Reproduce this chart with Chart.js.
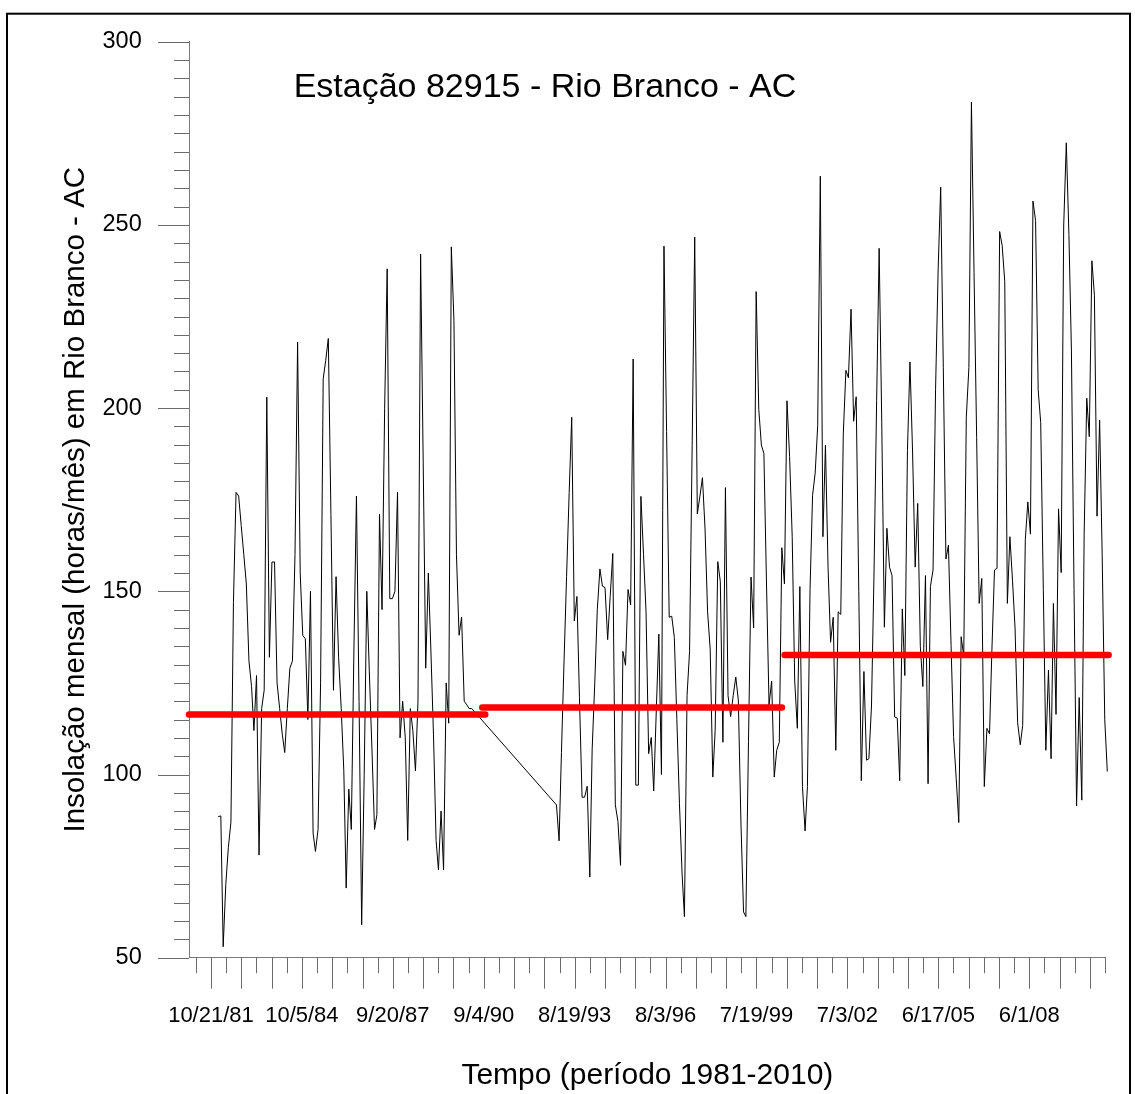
<!DOCTYPE html>
<html lang="pt-BR">
<head>
<meta charset="utf-8">
<title>Insolação mensal - Rio Branco - AC</title>
<script src="https://cdn.jsdelivr.net/npm/chart.js@4.4.1/dist/chart.umd.min.js"></script>
<style>
  html, body { margin: 0; padding: 0; background: #fff; }
  #wrap { position: relative; width: 1135px; height: 1094px; }
</style>
</head>
<body>
<div id="wrap"><canvas id="grafico-insolacao"></canvas></div>
<script>
// ==============================
// Dados
// ==============================

// insolação mensal (horas/mês) - jan/1982 a abr/1990
const insolacao1982a1990 = [
  88.5, 88.7, 53, 70, 80, 87, 147, 177, 176, 168,
  160, 152, 131, 124, 112, 127, 78, 118, 123, 203,
  132, 158, 158, 125, 118, 111, 106, 118, 129, 131,
  160, 218, 155, 138, 137, 115, 150, 84, 79, 85,
  125, 208, 213, 219, 171, 123, 154, 132, 118, 101,
  69, 96, 85, 134, 176, 120, 59, 100, 150, 128,
  107, 85, 89, 171, 145, 200, 238, 148, 148, 150,
  177, 110, 120, 110, 82, 118, 112, 101, 120, 242,
  185, 129, 155, 134, 111, 82, 74, 90, 74, 125,
  114, 244, 224, 160, 138, 143, 120, 119, 118, 118
];

// jan/1993 a dez/2001
const insolacao1993a2001 = [
  91.7, 81.9, 106, 131, 154, 177, 197.5, 141.9, 148.6, 121,
  93.8, 93.8, 96.8, 72, 106.9, 125, 145, 156.1, 151.4, 151,
  136.8, 148.6, 160.3, 91.7, 87.2, 75.2, 133.6, 129.8, 150.5, 146.3,
  213.4, 97.1, 97.1, 175.9, 160, 144.4, 105.7, 110.1, 95.5, 117.7,
  138.3, 100, 244.2, 193.6, 142.9, 143.2, 137.4, 115, 92, 73,
  61.2, 121.5, 133.6, 190, 246.7, 171.1, 176, 181, 167, 144.4,
  134.2, 99.3, 112, 158.1, 152.7, 108.8, 178.3, 121.5, 115.8, 121.5,
  126.6, 120.3, 87, 62.5, 61.2, 109, 153.9, 140, 231.8, 199.7,
  189.9, 187.6, 152, 119, 125.5, 99.3, 106.6, 108.8, 161.9, 152,
  202, 186.8, 165, 125.5, 112.6, 151.3, 96.7, 84.6, 96.7, 150.5,
  176.2, 182.3, 195.2, 263.3, 164.9, 189.9, 156.6, 136.1
];

// jan/2002 a dez/2010
const insolacao2002a2010 = [
  142.9, 106.6, 144.4, 143.7, 192.9, 210.3, 208.3, 227, 196.4, 203.1,
  150, 98.3, 128.1, 103.9, 104.3, 118.7, 155, 202, 243.6, 196,
  140.2, 167.2, 156.6, 154.3, 115.7, 115.4, 98.3, 145.2, 127, 188.4,
  212.6, 188, 156.6, 174, 135, 124, 154.3, 97.5, 151.3, 155.8,
  205, 238, 260.3, 211, 158.8, 162.6, 135.3, 110.4, 99, 86.9,
  137.6, 132.3, 197.4, 211.1, 283.5, 237, 192, 146.7, 153.5, 96.7,
  112.6, 111.1, 133.8, 155.8, 156.3, 248.2, 244.4, 234.6, 146.7, 164.9,
  153, 140, 114.1, 108.1, 113.4, 164.1, 174.4, 165.6, 256.5, 251.2,
  205, 196, 150.5, 106.6, 128.5, 104.3, 146.7, 116.4, 172.5, 155.1,
  249.7, 272.4, 247.4, 215.6, 150.5, 91.4, 121, 93, 165.6, 202.7,
  192.2, 240.2, 230.8, 170.5, 196.7, 160, 114.9, 100.8
];

// [ano, mês] do primeiro valor de cada bloco
const inicioBlocos = [[1982, 1], [1993, 1], [2002, 1]];

// médias de cada período (linhas vermelhas)
const mediasPeriodo = [116.4, 118.3, 132.6];
const mediasInicio = ["1981-02-02", "1990-08-17", "2000-06-17"];
const mediasFim = ["1990-09-22", "2000-05-16", "2010-12-31"];

// eixo x em dias contados a partir de 10/21/81
const origemEixo = Date.UTC(1981, 9, 21);
const eixoXMin = -261;
const eixoXMax = 10628;
const passoMarcas = 180;
const passoMarcasLongas = 360;
const passoRotulos = 1080;

const tituloGrafico = "Estação 82915 - Rio Branco - AC";
const tituloEixoY = "Insolação mensal (horas/mês) em Rio Branco - AC";
const tituloEixoX = "Tempo (período 1981-2010)";

const fonte = "'Liberation Sans', Arial, sans-serif";

// ==============================
// Montagem das séries
// ==============================

function diasDesdeOrigem(ms) {
    return (ms - origemEixo) / 86400000;
}

function montarPontos(valores, ano, mes) {
    return valores.map(function (v, k) {
        return { x: diasDesdeOrigem(Date.UTC(ano, mes - 1 + k, 15)), y: v };
    });
}

const blocos = [insolacao1982a1990, insolacao1993a2001, insolacao2002a2010];
let pontosInsolacao = [];
blocos.forEach(function (valores, b) {
    pontosInsolacao = pontosInsolacao.concat(
        montarPontos(valores, inicioBlocos[b][0], inicioBlocos[b][1]));
});

const datasetsMedias = mediasPeriodo.map(function (media, k) {
    return {
        data: [
            { x: diasDesdeOrigem(Date.parse(mediasInicio[k])), y: media },
            { x: diasDesdeOrigem(Date.parse(mediasFim[k])), y: media }
        ],
        borderColor: "#ff0000",
        borderWidth: 6.5,
        borderCapStyle: "round",
        pointRadius: 0,
        clip: false,
        order: 0
    };
});

function rotuloData(dias) {
    const d = new Date(origemEixo + dias * 86400000);
    const aa = String(d.getUTCFullYear() % 100).padStart(2, "0");
    return (d.getUTCMonth() + 1) + "/" + d.getUTCDate() + "/" + aa;
}

// ==============================
// Marcas dos eixos, título e moldura
// ==============================

const desenhoExtra = {
    id: "desenhoExtra",
    afterDraw(chart) {
        const ctx = chart.ctx;
        const area = chart.chartArea;
        const eixoX = chart.scales.x;
        const eixoY = chart.scales.y;

        ctx.save();
        ctx.strokeStyle = "#6a6a6a";
        ctx.lineWidth = 1;
        ctx.beginPath();
        eixoY.ticks.forEach(function (t) {
            const y = Math.round(eixoY.getPixelForValue(t.value)) + 0.5;
            const comp = Math.round(t.value) % 50 === 0 ? 31 : 15;
            ctx.moveTo(area.left - comp, y);
            ctx.lineTo(area.left, y);
        });
        eixoX.ticks.forEach(function (t) {
            const x = Math.round(eixoX.getPixelForValue(t.value)) + 0.5;
            const comp = t.value % passoMarcasLongas === 0 ? 31 : 15.5;
            ctx.moveTo(x, area.bottom);
            ctx.lineTo(x, area.bottom + comp);
        });
        ctx.stroke();

        ctx.fillStyle = "#000";
        ctx.font = "34px " + fonte;
        ctx.textAlign = "center";
        ctx.textBaseline = "alphabetic";
        ctx.fillText(tituloGrafico, area.left + 356, area.top + 55.6);

        ctx.strokeStyle = "#000";
        ctx.lineWidth = 2;
        ctx.strokeRect(7, 13.7, 1123, 1200);
        ctx.restore();
    }
};

// ==============================
// Gráfico
// ==============================

const canvasInsolacao = document.getElementById("grafico-insolacao");

new Chart(canvasInsolacao, {
    type: "line",
    data: {
        datasets: [
            {
                data: pontosInsolacao,
                borderColor: "#000",
                borderWidth: 1,
                pointRadius: 0,
                tension: 0,
                clip: false,
                order: 1
            }
        ].concat(datasetsMedias)
    },
    options: {
        responsive: true,
        maintainAspectRatio: false,
        animation: false,
        events: [],
        layout: {
            padding: { top: 41.7, right: 29.3, left: 0, bottom: 0 }
        },
        plugins: {
            legend: { display: false },
            tooltip: { enabled: false }
        },
        scales: {
            x: {
                type: "linear",
                position: "bottom",
                min: eixoXMin,
                max: eixoXMax,
                afterFit: function (scale) { scale.height = 136.3; },
                afterBuildTicks: function (scale) {
                    const marcas = [];
                    for (let v = -passoMarcas; v <= eixoXMax; v += passoMarcas) {
                        marcas.push({ value: v });
                    }
                    scale.ticks = marcas;
                },
                // as marcas são desenhadas pelo plugin; tickLength só afasta os rótulos
                grid: { display: false, drawTicks: true, tickLength: 41.6 },
                border: { display: true, color: "#7a7a7a", width: 1 },
                ticks: {
                    autoSkip: false,
                    maxRotation: 0,
                    padding: 3,
                    color: "#000",
                    font: { family: fonte, size: 22 },
                    callback: function (v) {
                        return v % passoRotulos === 0 ? rotuloData(v) : "";
                    }
                },
                title: {
                    display: true,
                    text: tituloEixoX,
                    color: "#000",
                    font: { family: fonte, size: 30 },
                    padding: { top: 0, bottom: 0 }
                }
            },
            y: {
                min: 50,
                max: 300,
                afterFit: function (scale) { scale.width = 189; },
                grid: { display: false, drawTicks: true, tickLength: 44.3 },
                border: { display: true, color: "#7a7a7a", width: 1 },
                ticks: {
                    stepSize: 5,
                    autoSkip: false,
                    padding: 3,
                    color: "#000",
                    font: { family: fonte, size: 23.5 },
                    callback: function (v) {
                        return Math.round(v) % 50 === 0 ? v : "";
                    }
                },
                title: {
                    display: true,
                    text: tituloEixoY,
                    color: "#000",
                    font: { family: fonte, size: 29.5 },
                    padding: { top: 58, bottom: 0 }
                }
            }
        }
    },
    plugins: [desenhoExtra]
});
</script>
</body>
</html>
